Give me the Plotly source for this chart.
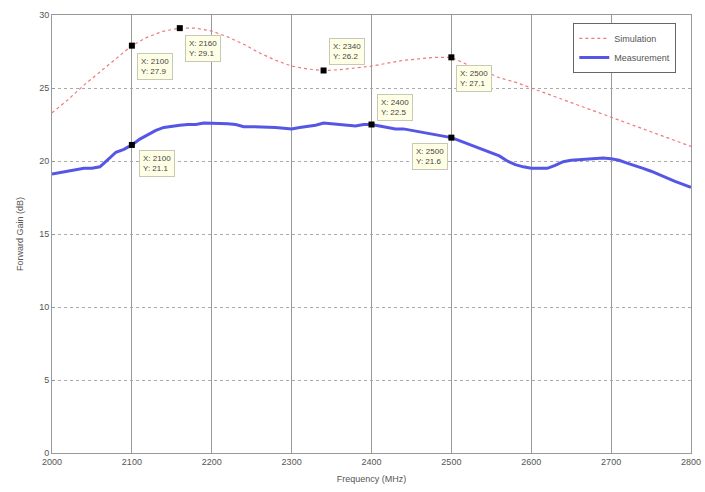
import plotly.graph_objects as go

# Simulation (red dotted)
sim_freq = [2000, 2020, 2040, 2060, 2080, 2100, 2120, 2140, 2160, 2180, 2200, 2220, 2240, 2260, 2280,
            2300, 2320, 2340, 2360, 2380, 2400, 2420, 2440, 2460, 2480, 2500, 2520, 2540, 2560, 2580,
            2600, 2620, 2640, 2660, 2680, 2700, 2720, 2740, 2760, 2780, 2800]
sim_gain = [23.3, 24.2, 25.2, 26.1, 27.0, 27.9, 28.5, 28.9, 29.1, 29.1, 28.9, 28.5, 28.0, 27.4, 26.9,
            26.5, 26.3, 26.2, 26.25, 26.35, 26.5, 26.7, 26.9, 27.0, 27.1, 27.1, 26.6, 26.2, 25.7, 25.4,
            25.0, 24.6, 24.2, 23.8, 23.4, 23.0, 22.6, 22.2, 21.8, 21.4, 21.0]

# Measurement (blue solid)
meas_freq = list(range(2000, 2801, 10))
meas_gain = [19.1, 19.2, 19.35, 19.45, 19.5, 19.5, 19.6, 20.1, 20.6, 20.8,
             21.1, 21.5, 21.8, 22.1, 22.3, 22.4, 22.45, 22.5, 22.5, 22.6,
             22.6, 22.6, 22.55, 22.5, 22.35, 22.35, 22.35, 22.3, 22.3, 22.25,
             22.2, 22.3, 22.35, 22.45, 22.6, 22.55, 22.45, 22.4, 22.4, 22.5,
             22.5, 22.4, 22.3, 22.2, 22.2, 22.1, 22.0, 21.95, 21.85, 21.75,
             21.6, 21.4, 21.2, 21.0, 20.8, 20.6, 20.35, 20.0, 19.75, 19.6,
             19.5, 19.5, 19.5, 19.7, 19.95, 20.05, 20.1, 20.1, 20.15, 20.2,
             20.15, 20.05, 19.85, 19.7, 19.5, 19.3, 19.05, 18.8, 18.6, 18.4, 18.2]

# Data tips
tip_x = [2100, 2160, 2340, 2500, 2100, 2400, 2500]
tip_y = [27.9, 29.1, 26.2, 27.1, 21.1, 22.5, 21.6]
# label placement: (xanchor, yanchor, xshift, yshift)
tip_place = [("left", "top", 5, -7), ("left", "top", 5, -7), ("left", "bottom", 5, 5),
             ("left", "top", 5, -8), ("left", "top", 7, -5), ("left", "bottom", 5, 4),
             ("right", "top", -3, -5)]

x_ticks = [2000, 2100, 2200, 2300, 2400, 2500, 2600, 2700, 2800]
y_ticks = [0, 5, 10, 15, 20, 25, 30]

fig = go.Figure()
fig.add_trace(go.Scatter(x=sim_freq, y=sim_gain, mode="lines", name="Simulation",
                         line=dict(color="#f07878", width=1.2, dash="dot")))
fig.add_trace(go.Scatter(x=meas_freq, y=meas_gain, mode="lines", name="Measurement",
                         line=dict(color="#5656e6", width=3)))
fig.add_trace(go.Scatter(x=tip_x, y=tip_y, mode="markers", showlegend=False,
                         marker=dict(symbol="square", size=6, color="black")))

for x, y, (xa, ya, xs, ys) in zip(tip_x, tip_y, tip_place):
    fig.add_annotation(x=x, y=y, xref="x", yref="y", showarrow=False,
                       text=f"X: {x}<br>Y: {y}", align="left",
                       xanchor=xa, yanchor=ya, xshift=xs, yshift=ys,
                       font=dict(family="Liberation Sans, Arial", size=8, color="#444"),
                       bgcolor="#ffffe6", bordercolor="#c8c8b8", borderwidth=1, borderpad=3)

fig.update_layout(
    width=705, height=492,
    margin=dict(l=52, r=14, t=15, b=39),
    paper_bgcolor="white", plot_bgcolor="white",
    font=dict(family="Liberation Sans, Arial", size=9, color="#555"),
    legend=dict(x=0.977, y=0.982, xanchor="right", yanchor="top",
                bgcolor="white", bordercolor="#666", borderwidth=1,
                font=dict(size=9, color="#555"), tracegroupgap=0),
    showlegend=True,
)
fig.update_xaxes(range=[2000, 2800], tickvals=x_ticks, showgrid=True, gridcolor="#999",
                 gridwidth=1, griddash="solid", showline=True, linecolor="#999", mirror=True,
                 ticks="inside", ticklen=3, tickcolor="#999", zeroline=False, automargin=False,
                 title=dict(text="Frequency (MHz)", standoff=9, font=dict(size=9)))
fig.update_yaxes(range=[0, 30], tickvals=y_ticks, showgrid=True, gridcolor="#aaa",
                 gridwidth=1, griddash="dot", showline=True, linecolor="#999", mirror=True,
                 ticks="inside", ticklen=3, tickcolor="#999", zeroline=False, automargin=False,
                 title=dict(text="Forward Gain (dB)", standoff=14, font=dict(size=9)))

fig.write_html("out.html", config={"displayModeBar": False},
               post_script="document.body.style.margin='0';document.body.style.overflow='hidden';")
